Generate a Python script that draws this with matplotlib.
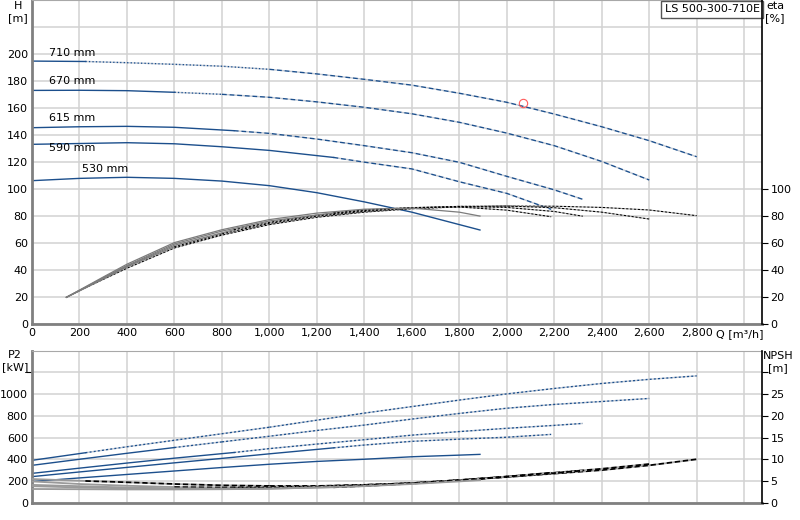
import numpy as np
import matplotlib
matplotlib.use("Agg")
import matplotlib.pyplot as plt

# impeller sizes
sizes = ["710 mm", "670 mm", "615 mm", "590 mm", "530 mm"]

# flow points [m3/h] for H, P2 and NPSH curves
q710 = [0, 225, 400, 600, 800, 1000, 1200, 1400, 1600, 1800, 2000, 2200, 2400, 2600, 2800]
q670 = [0, 200, 400, 600, 800, 1000, 1200, 1400, 1600, 1800, 2000, 2200, 2400, 2600]
q615 = [0, 200, 400, 600, 850, 1000, 1200, 1400, 1600, 1800, 2000, 2200, 2320]
q590 = [0, 200, 400, 600, 800, 1000, 1270, 1400, 1600, 1800, 2000, 2187]
q530 = [0, 200, 400, 600, 800, 1000, 1200, 1400, 1600, 1800, 1887]

# head [m]
h710 = [194.8, 194.5, 193.6, 192.4, 191.0, 188.7, 185.3, 181.3, 177.0, 171.0, 164.3, 155.6, 146.2, 135.9, 124.0]
h670 = [173.1, 173.2, 172.9, 171.7, 170.2, 168.0, 164.6, 160.6, 155.8, 149.5, 141.5, 132.2, 120.5, 106.8]
h615 = [145.5, 146.2, 146.5, 145.8, 143.3, 141.3, 137.1, 132.2, 127.0, 119.9, 109.5, 99.5, 92.5]
h590 = [133.2, 133.8, 134.4, 133.6, 131.4, 128.7, 123.5, 120.0, 115.0, 105.5, 96.9, 85.1]
h530 = [106.3, 108.0, 108.8, 108.0, 106.0, 102.6, 97.4, 90.6, 83.0, 73.8, 69.8]

# shaft power P2 [kW]
p710 = [390, 460, 515, 575, 635, 695, 760, 825, 885, 945, 1002, 1052, 1098, 1136, 1168]
p670 = [344, 400, 455, 508, 560, 612, 665, 715, 770, 822, 870, 905, 932, 960]
p615 = [270, 318, 365, 410, 462, 498, 540, 580, 622, 655, 685, 712, 730]
p590 = [240, 283, 325, 367, 408, 450, 505, 531, 565, 585, 603, 629]
p530 = [195, 228, 260, 292, 324, 354, 380, 400, 423, 438, 445]

# NPSH [m]
n710 = [5.45, 5.0, 4.7, 4.3, 4.0, 3.85, 3.85, 4.1, 4.5, 5.2, 5.9, 6.7, 7.5, 8.6, 10.0]
n670 = [4.9, 4.3, 3.9, 3.6, 3.5, 3.55, 3.75, 4.1, 4.5, 5.2, 6.0, 6.9, 7.8, 8.9]
n615 = [4.1, 3.8, 3.5, 3.3, 3.25, 3.35, 3.6, 4.0, 4.5, 5.2, 6.0, 6.8, 7.4]
n590 = [3.8, 3.5, 3.3, 3.2, 3.15, 3.25, 3.55, 3.85, 4.4, 5.1, 6.0, 6.9]
n530 = [3.15, 3.1, 3.05, 3.05, 3.1, 3.2, 3.5, 3.8, 4.3, 4.9, 5.2]

# efficiency [%]
qe710 = [145, 225, 400, 600, 800, 1000, 1200, 1400, 1600, 1800, 2000, 2200, 2400, 2600, 2800]
qe670 = [145, 300, 400, 600, 800, 1000, 1200, 1400, 1600, 1800, 2000, 2200, 2400, 2600]
qe615 = [145, 300, 400, 600, 850, 1000, 1200, 1400, 1600, 1800, 2000, 2200, 2320]
qe590 = [145, 300, 400, 600, 800, 1000, 1270, 1400, 1600, 1800, 2000, 2187]
qe530 = [145, 300, 400, 600, 800, 1000, 1200, 1400, 1600, 1800, 1887]
e710 = [20, 27, 41.5, 56.5, 66, 73.8, 79.2, 83, 85.5, 86.9, 87.5, 87.4, 86.5, 84.6, 80.4]
e670 = [20, 33.5, 42.5, 57.5, 67, 74.7, 80, 83.6, 86, 87.3, 87.5, 86.3, 83, 77.9]
e615 = [20, 34, 43, 58.5, 70, 75.5, 80.8, 84.2, 86.3, 87.2, 86.5, 83.5, 80]
e590 = [20, 34.5, 43.5, 59.5, 69, 76.5, 82.5, 84.7, 86.4, 86.8, 84.5, 79.6]
e530 = [20, 35, 44.5, 60.5, 70, 77.5, 82.3, 85.2, 86, 83, 80.1]

# end of solid part / end of dotted part of each curve
solid_end = [225, 600, 850, 1270, 1887]
dotted_end = [1000, 800, 850, 1270, 1887]

# duty point
duty_q = [2069]
duty_h = [164]

q_all = [q710, q670, q615, q590, q530]
h_all = [h710, h670, h615, h590, h530]
p_all = [p710, p670, p615, p590, p530]
n_all = [n710, n670, n615, n590, n530]
qe_all = [qe710, qe670, qe615, qe590, qe530]
e_all = [e710, e670, e615, e590, e530]

navy = "#1c4f8c"
grid_c = "#d2d2d2"


def draw_segments(ax, q, v, s_end, d_end, solid, dotted, dashed):
    q = np.asarray(q, float)
    v = np.asarray(v, float)
    m = q <= s_end
    ax.plot(q[m], v[m], **solid)
    m = (q >= s_end) & (q <= d_end)
    if m.sum() > 1:
        ax.plot(q[m], v[m], **dotted)
    m = q >= d_end
    if m.sum() > 1:
        ax.plot(q[m], v[m], **dashed)


fig = plt.figure(figsize=(8, 5.2), dpi=100)
ax = fig.add_axes([0.04, 0.3763, 0.9125, 0.6237])
ax_eta = ax.twinx()
axb = fig.add_axes([0.04, 0.0333, 0.9125, 0.2923])
ax_np = axb.twinx()

xmax = 3075
xt = list(range(0, 3001, 200))
xl = [f"{v:,}" for v in xt[:-1]] + [""]

# --- top: head and efficiency ---
ax.set_xlim(0, xmax)
ax.set_ylim(0, 240)
ax_eta.set_ylim(0, 240)
ax.set_xticks(xt)
ax.set_xticklabels(xl)
ax.set_yticks(range(0, 221, 20))
ax.set_yticklabels([str(v) for v in range(0, 201, 20)] + [""])
ax_eta.set_yticks(range(0, 101, 20))
ax.grid(True, color=grid_c, lw=1.1)
ax.set_axisbelow(True)

h_solid = dict(color=navy, lw=1.0)
h_dot = dict(color=navy, lw=1.0, ls=(0, (1, 1.5)), gapcolor="#c4cad4")
h_dash = dict(color=navy, lw=1.0, ls=(0, (3.5, 2)), gapcolor="#c4cad4")
e_solid = dict(color="#7c7c7c", lw=0.9)
e_dash = dict(color="black", lw=0.8, ls=(0, (2, 1.5)), gapcolor="#a8a8a8")

for i in range(5):
    draw_segments(ax, q_all[i], h_all[i], solid_end[i], dotted_end[i], h_solid, h_dot, h_dash)
    draw_segments(ax_eta, qe_all[i], e_all[i], solid_end[i], dotted_end[i], e_solid, e_dash, e_dash)

label_q = [70, 70, 70, 70, 212]
label_h = [200.5, 180, 153, 130.5, 115]
for i in range(5):
    ax.text(label_q[i], label_h[i], sizes[i], fontsize=8, va="center", ha="left")

ax.plot(duty_q, duty_h, "o", mfc="none", mec="#ff5c5c", ms=6, mew=0.8)

ax.text(0.997, 0.987, "LS 500-300-710E", transform=ax.transAxes, ha="right", va="top",
        fontsize=8, bbox=dict(boxstyle="square,pad=0.3", fc="white", ec="#555555", lw=1))

# --- bottom: power and NPSH ---
axb.set_xlim(0, xmax)
axb.set_ylim(0, 1400)
ax_np.set_ylim(0, 35)
axb.set_xticks(xt)
axb.set_xticklabels([])
axb.set_yticks(range(0, 1201, 200))
axb.set_yticklabels([str(v) for v in range(0, 1001, 200)] + [""])
ax_np.set_yticks(range(0, 31, 5))
ax_np.set_yticklabels([str(v) for v in range(0, 26, 5)] + [""])
axb.grid(True, color=grid_c, lw=1.1)
axb.set_axisbelow(True)

p_dot = dict(color=navy, lw=1.0, ls=(0, (1.5, 1.5)), gapcolor="#c4cad4")
n_solid = dict(color="#9a9a9a", lw=1.3)
n_dash = dict(color="black", lw=1.3, ls=(0, (3, 1.5)), gapcolor="#a8a8a8")
for i in range(5):
    draw_segments(axb, q_all[i], p_all[i], solid_end[i], dotted_end[i], h_solid, p_dot, p_dot)
    draw_segments(ax_np, q_all[i], n_all[i], solid_end[i], dotted_end[i], n_solid, n_dash, n_dash)

# --- axis styling ---
for a in (ax, axb):
    a.tick_params(axis="both", length=0, labelsize=8, pad=3)
    a.spines["left"].set_color("#808080")
    a.spines["left"].set_linewidth(2)
    a.spines["bottom"].set_color("#808080")
    a.spines["bottom"].set_linewidth(2)
    a.spines["top"].set_color("#a8a8a8")
    a.spines["right"].set_visible(False)
axb.yaxis.get_major_ticks()[-1].tick1line.set_markersize(4)
for a in (ax_eta, ax_np):
    a.tick_params(axis="y", length=4, labelsize=8, pad=2, color="black")
    a.spines["right"].set_color("black")
    a.spines["right"].set_linewidth(1.2)
    for s in ("left", "top", "bottom"):
        a.spines[s].set_visible(False)

# axis titles
fig.text(0.0225, 0.988, "H", fontsize=8, ha="center", va="center")
fig.text(0.0225, 0.966, "[m]", fontsize=8, ha="center", va="center")
fig.text(0.969, 0.988, "eta", fontsize=8, ha="center", va="center")
fig.text(0.969, 0.966, "[%]", fontsize=8, ha="center", va="center")
fig.text(0.019, 0.317, "P2", fontsize=8, ha="center", va="center")
fig.text(0.019, 0.294, "[kW]", fontsize=8, ha="center", va="center")
fig.text(0.9725, 0.316, "NPSH", fontsize=8, ha="center", va="center")
fig.text(0.9725, 0.293, "[m]", fontsize=8, ha="center", va="center")
fig.text(0.925, 0.358, "Q [m³/h]", fontsize=8, ha="center", va="center")

fig.savefig("out.png", dpi=100, facecolor="white")
